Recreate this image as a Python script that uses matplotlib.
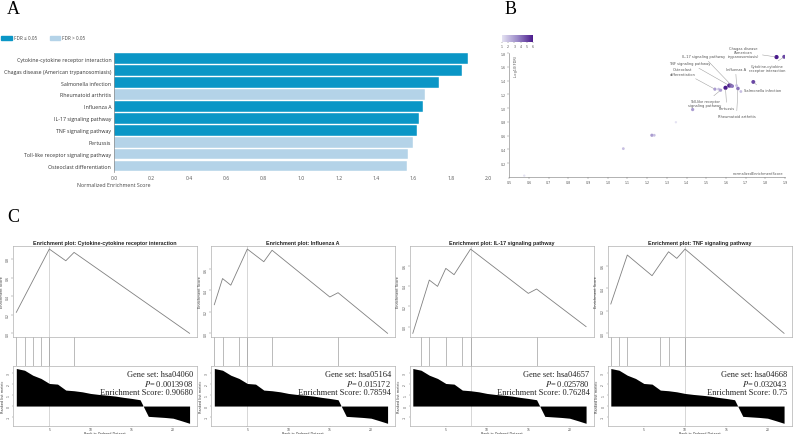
import matplotlib
matplotlib.use("Agg")
import matplotlib.pyplot as plt
import numpy as np
from matplotlib.colors import LinearSegmentedColormap, Normalize
from matplotlib.patches import Rectangle
import matplotlib.colorbar as mcolorbar

plt.rcParams['mathtext.fontset'] = 'stix'

# ---- panel A data ----
pathways = ["Cytokine-cytokine receptor interaction",
            "Chagas disease (American trypanosomiasis)",
            "Salmonella infection",
            "Rheumatoid arthritis",
            "Influenza A",
            "IL-17 signaling pathway",
            "TNF signaling pathway",
            "Pertussis",
            "Toll-like receptor signaling pathway",
            "Osteoclast differentiation"]
nes = [1.893, 1.857, 1.736, 1.661, 1.652, 1.631, 1.617, 1.599, 1.571, 1.564]
fdr_sig = [True, True, True, False, True, True, True, False, False, False]

# ---- panel B data ----
b_nes = [1.896, 1.857, 1.739, 1.617, 1.624, 1.632, 1.654, 1.598, 1.661, 1.676,
         1.544, 1.563, 1.573, 1.431, 1.346, 1.224, 1.236, 1.079, 0.576]
b_logfdr = [1.745, 1.741, 1.380, 1.328, 1.328, 1.319, 1.328, 1.295, 1.285, 1.241,
            1.275, 1.275, 1.260, 0.979, 0.795, 0.606, 0.606, 0.412, 0.020]
b_count = [5, 6, 5, 6, 5, 4, 2, 6, 4, 2, 3, 2, 3, 3, 1, 3, 2, 2, 1]
b_labels = ["Cytokine-cytokine\nreceptor interaction",
            "Chagas disease\n(American\ntrypanosomiasis)",
            "Salmonella infection",
            "TNF signaling pathway",
            "IL-17 signaling pathway",
            "Influenza A",
            "Pertussis",
            "Rheumatoid arthritis",
            "Osteoclast\ndifferentiation",
            "Toll-like receptor\nsignaling pathway"]
b_label_point = [0, 1, 2, 3, 5, 6, 7, 8, 10, 12]
b_label_xy = [(1.810, 1.581), (1.688, 1.814), (1.786, 1.261), (1.417, 1.654),
              (1.485, 1.756), (1.649, 1.571), (1.604, 1.004), (1.654, 0.883),
              (1.378, 1.532), (1.493, 1.072)]

# ---- panel C data ----
c_titles = ["Cytokine-cytokine receptor interaction", "Influenza A",
            "IL-17 signaling pathway", "TNF signaling pathway"]
c_genesets = ["hsa04060", "hsa05164", "hsa04657", "hsa04668"]
c_pvals = ["0.0013908", "0.015172", "0.025780", "0.032043"]
c_es = ["0.90680", "0.78594", "0.76284", "0.75"]
c_curve_rank = [[1, 5, 7, 8, 22],
                [1, 2, 3, 5, 7, 8, 15, 16, 22],
                [1, 3, 4, 5, 6, 8, 15, 16, 22],
                [1, 3, 6, 8, 9, 10, 22]]
c_curve_es = [[0.226, 0.9068, 0.781, 0.871, 0.0],
              [0.267, 0.511, 0.449, 0.786, 0.668, 0.775, 0.339, 0.379, 0.0],
              [-0.066, 0.458, 0.396, 0.573, 0.511, 0.763, 0.327, 0.370, 0.0],
              [0.261, 0.697, 0.513, 0.726, 0.667, 0.75, 0.0]]
c_hits = [[1, 2, 3, 4, 5, 8],
          [1, 2, 4, 5, 8, 16],
          [2, 3, 5, 7, 8, 16],
          [1, 2, 3, 7, 8, 10]]
c_peak = [5, 5, 8, 10]
ranks = list(range(1, 23))
metric = [3.46, 3.30, 2.84, 2.54, 2.08, 2.02, 1.47, 1.41, 1.31, 1.16, 1.07,
          1.00, 0.92, 0.80, 0.70, 0.58, -0.95, -1.00, -1.05, -1.12, -1.35, -1.59]

W, H = 793, 435
fig = plt.figure(figsize=(W / 100, H / 100), dpi=100)


def box(l, t, r, b):
    return [l / W, 1 - b / H, (r - l) / W, (b - t) / H]


# panel letters
for letter, (x, y) in zip("ABC", [(7, 14), (505, 14), (7, 222)]):
    fig.text(x / W, 1 - y / H, letter, family="Liberation Serif", fontsize=13)

# ================= A =================
dark, light = "#0a96c6", "#b4d3e8"
ax = fig.add_axes(box(114, 53.7, 488.4, 173))
ypos = np.arange(len(pathways))
ax.barh(ypos, nes, height=0.9, color=[dark if s else light for s in fdr_sig],
        edgecolor="white", linewidth=0.3)
ax.set_ylim(len(pathways) - 0.5, -0.5)
ax.set_xlim(0, 2.0)
ax.set_yticks(ypos)
ax.set_yticklabels(pathways, fontsize=3.8, color="#333333", family="Open Sans")
ax.set_xticks(np.arange(0, 2.01, 0.2))
ax.set_xticklabels([f"{v:.1f}" for v in np.arange(0, 2.01, 0.2)],
                   fontsize=3.6, color="#555555", family="Open Sans")
ax.tick_params(length=0, pad=2)
for s in ["top", "right", "bottom"]:
    ax.spines[s].set_visible(False)
ax.spines["left"].set_color("#888888")
ax.spines["left"].set_linewidth(0.5)
ax.set_xlabel("Normalized Enrichment Score", fontsize=3.8, color="#444444",
              family="Open Sans")
ax.xaxis.set_label_coords(0.0, -0.085)

# legend
fig.add_artist(Rectangle((1 / W, 1 - 41 / H), 11 / W, 4.5 / H, color=dark,
                         transform=fig.transFigure))
fig.text(14 / W, 1 - 39 / H, "FDR \u2264 0.05", fontsize=3.3, color="#444444",
         va="center", family="Open Sans")
fig.add_artist(Rectangle((50 / W, 1 - 41 / H), 10 / W, 4.5 / H, color=light,
                         transform=fig.transFigure))
fig.text(62 / W, 1 - 39 / H, "FDR > 0.05", fontsize=3.3, color="#444444",
         va="center", family="Open Sans")

# ================= B =================
cmap = LinearSegmentedColormap.from_list("pur", ["#e4e2f2", "#9b8ac8", "#4a1a8c"])
norm = Normalize(1, 6)
axb = fig.add_axes(box(509.3, 54, 785, 178))
axb.scatter(b_nes, b_logfdr, c=b_count, cmap=cmap, norm=norm,
            s=[1.5 + 1.3 * c for c in b_count], linewidths=0, zorder=3)
axb.set_xlim(0.5, 1.9)
axb.set_ylim(0, 1.8)
axb.set_xticks(np.arange(0.5, 1.91, 0.1))
axb.set_xticklabels([f"{v:.1f}" for v in np.arange(0.5, 1.91, 0.1)],
                    fontsize=2.3, color="#555555")
axb.set_yticks(np.arange(0.2, 1.81, 0.2))
axb.set_yticklabels([f"{v:.1f}" for v in np.arange(0.2, 1.81, 0.2)],
                    fontsize=2.3, color="#555555")
axb.tick_params(length=1.2, width=0.3, pad=1, color="#777777")
for s in ["top", "right"]:
    axb.spines[s].set_visible(False)
for s in ["left", "bottom"]:
    axb.spines[s].set_color("#777777")
    axb.spines[s].set_linewidth(0.4)
axb.text(0.015, 0.99, "-Log10(FDR)", rotation=90, transform=axb.transAxes,
         fontsize=2.5, color="#555555", va="top", ha="left")
axb.text(0.995, 0.015, "normalizedEnrichmentScore", transform=axb.transAxes,
         fontsize=2.5, color="#555555", va="bottom", ha="right")
for lab, i, (tx, ty) in zip(b_labels, b_label_point, b_label_xy):
    axb.annotate(lab, xy=(b_nes[i], b_logfdr[i]), xytext=(tx, ty),
                 fontsize=2.6, color="#555555", ha="center", va="center",
                 linespacing=1.1,
                 arrowprops=dict(arrowstyle="-", color="#999999", lw=0.35,
                                 shrinkA=0.5, shrinkB=1))
cax = fig.add_axes(box(502, 36, 533, 42.7))
cb = mcolorbar.ColorbarBase(cax, cmap=cmap, norm=norm, orientation="horizontal")
cb.set_ticks([1, 2, 3, 4, 5, 6])
cb.outline.set_visible(False)
cax.tick_params(labelsize=2.3, length=1, width=0.3, pad=0.5, colors="#555555")

# ================= C =================
lefts = [13, 211, 409.5, 607.5]
pw = 184
grid_c = "#d0d0d0"
frame_c = "#b0b0b0"
for k in range(4):
    l, r = lefts[k], lefts[k] + pw
    xl = (0.6, 22.9)

    # running enrichment score
    a1 = fig.add_axes(box(l, 246.7, r, 337.7))
    es = c_curve_es[k]
    rng = max(es) - min(es)
    a1.plot(c_curve_rank[k], es, color="#808080", lw=0.6)
    a1.axvline(c_peak[k], color=grid_c, lw=0.6, zorder=0)
    a1.set_xlim(*xl)
    a1.set_ylim(min(es) - 0.04 * rng, max(es) + 0.04 * rng)
    a1.set_xticks([])
    a1.set_yticks(np.arange(0, max(es) + 0.01, 0.2))
    a1.set_yticklabels([f"{v:.1f}" for v in np.arange(0, max(es) + 0.01, 0.2)],
                       rotation=90, va="center", fontsize=2.2, color="#444444")
    a1.tick_params(length=1.2, width=0.3, pad=1, color="#777777")
    a1.set_ylabel("Enrichment Score", fontsize=2.5, labelpad=1.5, color="#333333")
    for s in a1.spines.values():
        s.set_color(frame_c)
        s.set_linewidth(0.5)
    a1.set_title("Enrichment plot: " + c_titles[k], fontsize=3.9,
                 fontweight="bold", family="Liberation Sans", pad=1.5,
                 color="#222222")

    # hit marks
    a2 = fig.add_axes(box(l, 338.3, r, 366.8))
    a2.vlines(c_hits[k], 0, 1, color="#a0a0a0", lw=0.5)
    a2.axvline(c_peak[k], color=grid_c, lw=0.6, zorder=0)
    a2.set_xlim(*xl)
    a2.set_ylim(0, 1)
    a2.axis("off")

    # ranked list metric
    a3 = fig.add_axes(box(l, 367.3, r, 426.5))
    mr = max(metric) - min(metric)
    a3.fill_between(ranks, 0, metric, color="black", lw=0)
    a3.axvline(c_peak[k], color=grid_c, lw=0.6, zorder=0)
    a3.set_xlim(*xl)
    a3.set_ylim(min(metric) - 0.04 * mr, max(metric) + 0.04 * mr)
    a3.set_xticks([5, 10, 15, 20])
    a3.set_xticklabels(["5", "10", "15", "20"], fontsize=2.2, color="#444444")
    a3.set_yticks([-1, 0, 1, 2, 3])
    a3.set_yticklabels(["-1", "0", "1", "2", "3"], rotation=90, va="center",
                       fontsize=2.2, color="#444444")
    a3.tick_params(axis="y", length=1.0, width=0.3, pad=0.6, color="#777777")
    a3.tick_params(axis="x", length=0.8, width=0.3, pad=0.2, color="#777777")
    a3.set_xlabel("Rank in Ordered Dataset", fontsize=2.4, color="#333333",
                  va="center")
    a3.xaxis.set_label_coords(0.5, -0.12)
    a3.set_ylabel("Ranked list metric", fontsize=2.5, labelpad=1.5, color="#333333")
    for s in a3.spines.values():
        s.set_color(frame_c)
        s.set_linewidth(0.5)
    tx = 1 - 4 / pw
    a3.text(tx, 0.87, "Gene set: " + c_genesets[k], transform=a3.transAxes,
            ha="right", va="center", fontsize=6, family="Liberation Serif",
            color="#222222")
    a3.text(tx, 0.715, "$P$= " + c_pvals[k], transform=a3.transAxes,
            ha="right", va="center", fontsize=6, family="Liberation Serif",
            color="#222222")
    a3.text(tx, 0.56, "Enrichment Score: " + c_es[k], transform=a3.transAxes,
            ha="right", va="center", fontsize=6, family="Liberation Serif",
            color="#222222")

fig.savefig("out.png", dpi=100, facecolor="white")
